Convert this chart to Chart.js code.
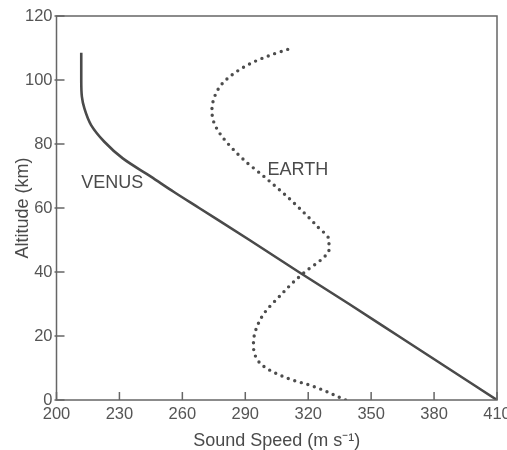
<!DOCTYPE html>
<html>
<head>
<meta charset="utf-8">
<script src="https://cdn.jsdelivr.net/npm/chart.js@4.4.1/dist/chart.umd.min.js"></script>
<style>
  html, body { margin: 0; padding: 0; background: #fff; }
  #wrap { width: 507px; height: 450px; }
</style>
</head>
<body>
<div id="wrap"><canvas id="c" width="507" height="450"></canvas></div>
<script>
// Axis tick values
const speedTicks = [200, 230, 260, 290, 320, 350, 380, 410];
const altitudeTicks = [0, 20, 40, 60, 80, 100, 120];

// Venus sound-speed profile (m/s against km)
const venusSpeed    = [410, 386.5, 363, 339.5, 315.5, 292, 268, 256, 245, 231.6, 222.8, 216.5, 213.3, 212.1, 211.8, 211.8];
const venusAltitude = [0,   10,    20,  30,    40,    50,  60,  65,  69.8, 75.5, 80.7, 85.9, 91.1, 94.8, 100, 108.5];

// Earth sound-speed profile (m/s against km)
const earthSpeed    = [337.8, 322.7, 310.1, 299, 295, 293.9, 295, 299, 306.9, 314, 319.6, 326, 329.9, 329.9, 324.4, 311.7, 299, 289.4, 278.4, 274.9, 274.1, 276, 279.2, 284.7, 292.6, 302.1, 310.9];
const earthAltitude = [0,     4.2,   6.8,   10.4, 13.5, 17.7, 21.9, 27.1, 32.8, 37.5, 40.6, 43.75, 46.9, 50, 54.2, 62.5, 69.8, 75, 82.8, 87, 90.6, 95.8, 99, 102.1, 105.2, 107.8, 109.7];

const toPoints = (xs, ys) => xs.map((x, i) => ({ x, y: ys[i] }));

const INK = '#4a4a4a';
const AXIS = '#666';
const FONT = '"Liberation Sans", Helvetica, Arial, sans-serif';

// Box frame, inward tick marks and curve names
const frameAndTicks = {
  id: 'frameAndTicks',
  afterDatasetsDraw(chart, args, opts) {
    const { ctx, chartArea: a, scales: { x, y } } = chart;
    ctx.save();
    ctx.strokeStyle = AXIS;
    ctx.lineWidth = 1.5;
    ctx.strokeRect(a.left, a.top, a.right - a.left, a.bottom - a.top);
    ctx.beginPath();
    x.ticks.forEach(t => {
      const px = x.getPixelForValue(t.value);
      ctx.moveTo(px, a.bottom);
      ctx.lineTo(px, a.bottom - 8);
    });
    y.ticks.forEach(t => {
      const py = y.getPixelForValue(t.value);
      ctx.moveTo(a.left - 2, py);
      ctx.lineTo(a.left + 8, py);
    });
    ctx.stroke();

    ctx.fillStyle = INK;
    ctx.font = '18px ' + FONT;
    ctx.textAlign = 'left';
    ctx.textBaseline = 'middle';
    opts.labels.forEach(l => {
      ctx.fillText(l.text, x.getPixelForValue(l.x), y.getPixelForValue(l.y));
    });
    ctx.restore();
  }
};

new Chart(document.getElementById('c'), {
  type: 'scatter',
  data: {
    datasets: [
      {
        label: 'VENUS',
        data: toPoints(venusSpeed, venusAltitude),
        showLine: true,
        borderColor: INK,
        borderWidth: 2.6,
        cubicInterpolationMode: 'monotone',
        pointRadius: 0,
        fill: false
      },
      {
        label: 'EARTH',
        data: toPoints(earthSpeed, earthAltitude),
        showLine: true,
        borderColor: '#4d4d4d',
        borderWidth: 3.4,
        borderDash: [0, 6.8],
        borderCapStyle: 'round',
        cubicInterpolationMode: 'monotone',
        pointRadius: 0,
        fill: false
      }
    ]
  },
  options: {
    indexAxis: 'y',
    responsive: false,
    animation: false,
    events: [],
    layout: { padding: { top: 16, right: 10, bottom: 0, left: 0 } },
    plugins: {
      legend: { display: false },
      tooltip: { enabled: false },
      frameAndTicks: {
        labels: [
          { text: 'VENUS', x: 211.8, y: 67.8 },
          { text: 'EARTH', x: 300.6, y: 71.9 }
        ]
      }
    },
    scales: {
      x: {
        type: 'linear',
        position: 'bottom',
        min: 200,
        max: 410,
        afterBuildTicks: s => { s.ticks = speedTicks.map(v => ({ value: v })); },
        afterFit: s => { s.height = 50; s.paddingLeft = 0; s.paddingRight = 0; },
        grid: { display: false, drawTicks: false },
        border: { display: false },
        ticks: {
          color: '#555',
          padding: 5,
          maxRotation: 0,
          autoSkip: false,
          font: { family: FONT, size: 16.5 }
        },
        title: {
          display: true,
          text: 'Sound Speed (m s\u207B\u00B9)',
          color: INK,
          padding: { top: 0, bottom: 0 },
          font: { family: FONT, size: 18, lineHeight: 1.0 }
        }
      },
      y: {
        type: 'linear',
        position: 'left',
        min: 0,
        max: 120,
        afterBuildTicks: s => { s.ticks = altitudeTicks.map(v => ({ value: v })); },
        afterFit: s => { s.width = 56.5; s.paddingTop = 0; s.paddingBottom = 0; },
        grid: { display: false, drawTicks: false },
        border: { display: false },
        ticks: {
          color: '#555',
          padding: 4,
          autoSkip: false,
          font: { family: FONT, size: 16.5 }
        },
        title: {
          display: true,
          text: 'Altitude (km)',
          color: INK,
          padding: { top: 12, bottom: 0 },
          font: { family: FONT, size: 18 }
        }
      }
    }
  },
  plugins: [frameAndTicks]
});
</script>
</body>
</html>
